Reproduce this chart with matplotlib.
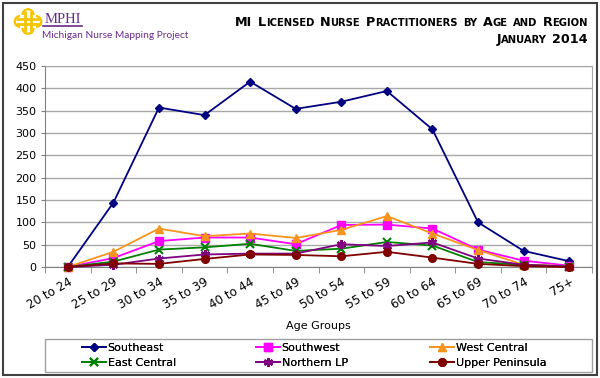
import matplotlib
matplotlib.use("Agg")
import matplotlib.pyplot as plt
from matplotlib.patches import Rectangle, Circle
from matplotlib.lines import Line2D

categories = ["20 to 24", "25 to 29", "30 to 34", "35 to 39", "40 to 44", "45 to 49",
              "50 to 54", "55 to 59", "60 to 64", "65 to 69", "70 to 74", "75+"]
southeast = [0, 144, 357, 340, 415, 354, 370, 394, 308, 100, 36, 13]
southwest = [0, 20, 58, 66, 66, 51, 94, 95, 86, 39, 14, 3]
west_central = [0, 34, 86, 69, 75, 65, 83, 114, 75, 38, 5, 2]
east_central = [0, 12, 39, 44, 52, 36, 41, 56, 48, 11, 5, 1]
northern_lp = [0, 5, 19, 28, 30, 30, 51, 47, 55, 19, 5, 1]
upper_peninsula = [0, 8, 7, 18, 28, 27, 24, 34, 21, 7, 2, 0]
yticks = [0, 50, 100, 150, 200, 250, 300, 350, 400, 450]

series = [
    ("Southeast", southeast, "#000080", "D", 4.5),
    ("Southwest", southwest, "#FF00FF", "s", 5.5),
    ("West Central", west_central, "#F7941D", "^", 6),
    ("East Central", east_central, "#008000", "x", 5.5),
    ("Northern LP", northern_lp, "#800080", (6, 2, 0), 6.5),
    ("Upper Peninsula", upper_peninsula, "#800000", "o", 5.5),
]

W, H = 600, 378
fig = plt.figure(figsize=(6, 3.78), dpi=100)
fig.patch.set_facecolor("white")

def fx(px):
    return px / W

def fy(py):
    return 1 - py / H

# outer border
fig.add_artist(Rectangle((fx(3), fy(375)), fx(594), 372 / H, transform=fig.transFigure,
                         fill=False, edgecolor="#404040", linewidth=1.5))

ax = fig.add_axes([fx(45), fy(267), fx(592 - 45), (267 - 66) / H])
x = list(range(len(categories)))
handles = []
for i, (name, vals, col, mk, ms) in enumerate(series):
    mew = 1.5 if mk == "x" or isinstance(mk, tuple) else 1
    h, = ax.plot(x, vals, color=col, marker=mk, markersize=ms, linewidth=1.3,
                 markeredgewidth=mew, markeredgecolor=col, markerfacecolor=col,
                 label=name, zorder=3 + i, clip_on=False)
    handles.append(h)

ax.set_xlim(-0.5, len(categories) - 0.5)
ax.set_ylim(0, 450)
ax.set_yticks(yticks)
ax.set_yticklabels([str(v) for v in yticks], fontsize=8)
ax.set_xticks(x)
ax.set_xticklabels(categories, rotation=30, ha="right", va="top", fontsize=8.6,
                   rotation_mode="anchor")
ax.tick_params(axis="x", which="major", length=0, pad=6)
ax.set_xticks([v - 0.5 for v in range(len(categories) + 1)], minor=True)
ax.tick_params(axis="x", which="minor", length=4, color="#808080")
ax.tick_params(axis="y", length=3, color="#808080", pad=3)
ax.grid(axis="y", color="#A8A8A8", linewidth=1)
ax.set_axisbelow(True)
for s in ["top", "right"]:
    ax.spines[s].set_color("#A8A8A8")
for s in ["left", "bottom"]:
    ax.spines[s].set_color("#808080")
fig.text(fx(318), fy(326), "Age Groups", fontsize=8, ha="center", va="center")

# legend frame + three single-column legends
fig.add_artist(Rectangle((fx(45), fy(372)), fx(547), 33 / H, transform=fig.transFigure,
                         fill=False, edgecolor="#A0A0A0", linewidth=1))
col_x = [82, 256, 430]
for c in range(3):
    hs = [handles[c], handles[c + 3]]
    lg = fig.legend(hs, [h.get_label() for h in hs], ncol=1, loc="center left",
                    bbox_to_anchor=(fx(col_x[c]), fy(355.5)), frameon=False,
                    fontsize=8, handlelength=2.2, handletextpad=0.1,
                    labelspacing=0.45, borderaxespad=0, borderpad=0)
    fig.add_artist(lg)

# Title in small caps
def sc_segments(words, big, small):
    segs = []
    for w in words:
        wseg = []
        if w.isupper() or w.isdigit():
            wseg.append((w, big))
        elif w[0].isupper():
            wseg.append((w[0], big))
            wseg.append((w[1:].upper(), small))
        else:
            wseg.append((w.upper(), small))
        segs.append(wseg)
    return segs

renderer = fig.canvas.get_renderer()

def draw_sc(text, xr, yb, big=9.2, small=7.2, gap=5.5):
    words = text.split(" ")
    segs = sc_segments(words, big, small)
    items = []
    for wi, wseg in enumerate(segs):
        for s, size in wseg:
            t = fig.text(0, 0, s, fontsize=size, fontweight="bold", va="baseline",
                         ha="left", color="black")
            w = t.get_window_extent(renderer).width
            items.append([t, w, 0])
        if wi < len(segs) - 1:
            items[-1][2] = gap
    total = sum(w + g for _, w, g in items)
    xx = xr - total
    for t, w, g in items:
        t.set_position((fx(xx), fy(yb)))
        xx += w + g

draw_sc("MI Licensed Nurse Practitioners by Age and Region", 588, 26)
draw_sc("January 2014", 588, 43)

# Logo
lax = fig.add_axes([fx(10), fy(38), fx(36), 36 / H])
lax.set_xlim(10, 46)
lax.set_ylim(38, 2)
lax.axis("off")
gold = "#F6C500"
cx0, cy0 = 28, 21.5
lobes = [(-7.8, 0), (7.8, 0), (0, -6.8), (0, 6.8)]
for dx, dy in lobes:
    lax.add_patch(Circle((cx0 + dx, cy0 + dy), 6.6, facecolor=gold, edgecolor="none"))
lax.add_patch(Rectangle((cx0 - 7.8, cy0 - 6.8), 15.6, 13.6, facecolor=gold, edgecolor="none"))
for dx, dy in lobes:
    lax.add_patch(Circle((cx0 + dx, cy0 + dy), 4.3, facecolor="white", edgecolor="none"))
lax.add_patch(Rectangle((cx0 - 7.8, cy0 - 6.8), 15.6, 13.6, facecolor="white", edgecolor="none"))
for xv in [cx0 - 2.8, cx0 + 2.8]:
    lax.plot([xv, xv], [cy0 - 11, cy0 + 11], color=gold, lw=2.0, solid_capstyle="butt")
for yv in [cy0 - 2.8, cy0 + 2.8]:
    lax.plot([cx0 - 12.5, cx0 + 12.5], [yv, yv], color=gold, lw=2.0, solid_capstyle="butt")

purple = "#6A2A8C"
fig.text(fx(45), fy(23), "MPHI", fontsize=10.5, family="Liberation Serif", color=purple,
         va="baseline", ha="left")
fig.add_artist(Line2D([fx(43), fx(82)], [fy(25.5), fy(25.5)], color=purple, lw=1.2))
fig.text(fx(42), fy(38), "Michigan Nurse Mapping Project", fontsize=7.3, family="Lato",
         color=purple, va="baseline", ha="left")

fig.savefig("out.png", dpi=100)
